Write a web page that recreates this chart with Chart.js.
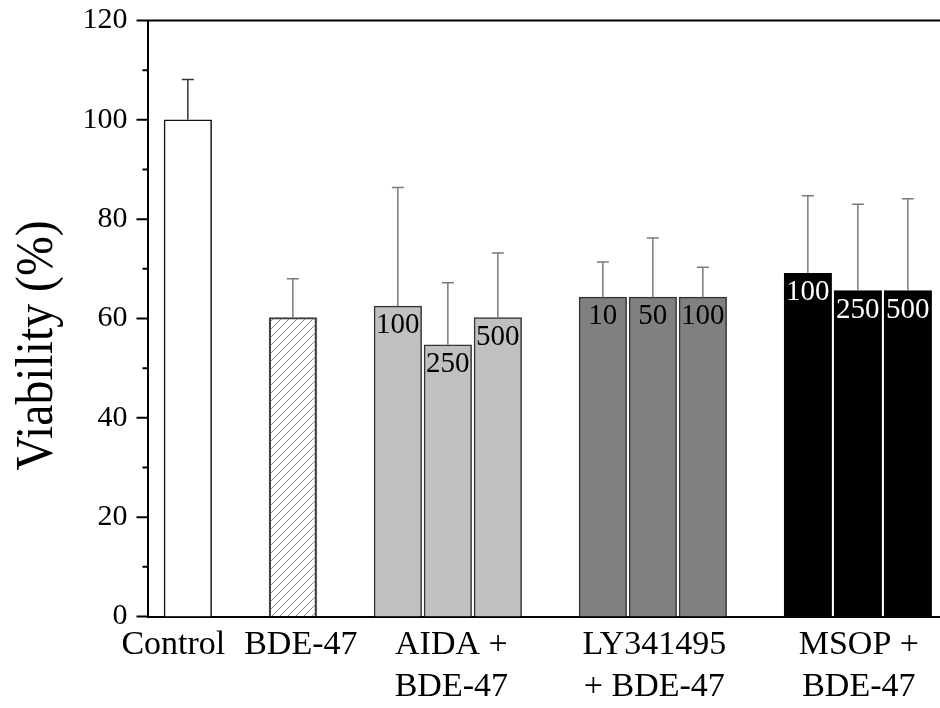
<!DOCTYPE html>
<html>
<head>
<meta charset="utf-8">
<script src="https://cdn.jsdelivr.net/npm/chart.js@4"></script>
<style>
  html, body { margin: 0; padding: 0; background: #fff; }
  #wrap { width: 940px; height: 708px; position: relative; }
</style>
</head>
<body>
<div id="wrap"><canvas id="viabilityChart"></canvas></div>
<script>
// ---- data ----
const groupLabels = [["Control"], ["BDE-47"], ["AIDA +", "BDE-47"], ["LY341495", "+ BDE-47"], ["MSOP +", "BDE-47"]];
const barGroup = [0, 1, 2, 2, 2, 3, 3, 3, 4, 4, 4];
const doseLabels = ["", "", "100", "250", "500", "10", "50", "100", "100", "250", "500"];
const viability = [100, 60.2, 62.5, 54.7, 60.2, 64.3, 64.3, 64.3, 69.1, 65.6, 65.6];
const sdUpper = [8.1, 7.8, 23.9, 12.5, 13.0, 7.1, 11.9, 6.0, 15.6, 17.4, 18.5];
const yTicks = [0, 20, 40, 60, 80, 100, 120];

// ---- layout (in bar-step units along a linear x axis) ----
const groupStep = 2.1;               // distance between last bar of a group and first bar of the next
const labelNudge = [-0.29, 0.16, 0.07, 0.03, 0.02];

const barPos = [];
barGroup.forEach(function (g, i) {
  if (i === 0) barPos.push(0);
  else barPos.push(barPos[i - 1] + (g === barGroup[i - 1] ? 1 : groupStep));
});
const groupCenter = groupLabels.map(function (_, g) {
  const xs = barPos.filter(function (_, i) { return barGroup[i] === g; });
  return (xs[0] + xs[xs.length - 1]) / 2;
});

// hatch pattern for the BDE-47 bar
function makeHatch() {
  const c = document.createElement("canvas");
  c.width = 8; c.height = 8;
  const g = c.getContext("2d");
  g.strokeStyle = "#8a8a8a";
  g.lineWidth = 1;
  g.beginPath();
  g.moveTo(0, 8); g.lineTo(8, 0);
  g.moveTo(-1, 1); g.lineTo(1, -1);
  g.moveTo(7, 9); g.lineTo(9, 7);
  g.stroke();
  return g.createPattern(c, "repeat");
}

const groupFill = ["#ffffff", makeHatch(), "#c0c0c0", "#808080", "#000000"];
const groupBorder = ["#111111", "#3a3a3a", "#333333", "#333333", "#000000"];
const groupErr = ["#333333", "#7a7a7a", "#7a7a7a", "#7a7a7a", "#7a7a7a"];

const SERIF = "'Liberation Serif', 'Times New Roman', serif";
Chart.defaults.font.family = SERIF;
Chart.defaults.color = "#000";

// error bars (upper only), dose labels, ticks, frame and y title
const extras = {
  id: "extras",
  afterDatasetsDraw(chart) {
    const ctx = chart.ctx;
    const ys = chart.scales.y;
    const meta = chart.getDatasetMeta(0);
    ctx.save();
    meta.data.forEach(function (el, i) {
      const g = barGroup[i];
      const yTop = ys.getPixelForValue(viability[i] + sdUpper[i]);
      ctx.strokeStyle = groupErr[g];
      ctx.lineWidth = 1.5;
      ctx.beginPath();
      ctx.moveTo(el.x, el.y);
      ctx.lineTo(el.x, yTop);
      ctx.moveTo(el.x - 6, yTop);
      ctx.lineTo(el.x + 6, yTop);
      ctx.stroke();

      if (doseLabels[i]) {
        ctx.font = "29px " + SERIF;
        ctx.textAlign = "center";
        ctx.textBaseline = "alphabetic";
        ctx.fillStyle = g === 4 ? "#ffffff" : "#000000";
        ctx.fillText(doseLabels[i], el.x, el.y + 27);
      }
    });
    ctx.restore();
  },
  afterDraw(chart) {
    const ctx = chart.ctx;
    const a = chart.chartArea;
    const ys = chart.scales.y;
    ctx.save();
    ctx.strokeStyle = "#000";
    ctx.lineWidth = 2;
    ctx.beginPath();
    // top frame line
    ctx.moveTo(a.left - 1, a.top);
    ctx.lineTo(a.right, a.top);
    // major + minor y ticks, pointing outwards
    for (let v = 0; v <= 120; v += 10) {
      const y = ys.getPixelForValue(v);
      const len = v % 20 === 0 ? 11 : 5;
      ctx.moveTo(a.left - len, y);
      ctx.lineTo(a.left, y);
    }
    ctx.stroke();

    // y axis title, slightly condensed like the original
    ctx.translate(52, 345.5);
    ctx.rotate(-Math.PI / 2);
    ctx.scale(0.9, 1);
    ctx.font = "53px " + SERIF;
    ctx.fillStyle = "#000";
    ctx.textAlign = "center";
    ctx.textBaseline = "alphabetic";
    ctx.fillText("Viability (%)", 0, 0);
    ctx.restore();
  },
};

const ctx = document.getElementById("viabilityChart").getContext("2d");
const viabilityChart = new Chart(ctx, {
  type: "bar",
  data: {
    datasets: [
      {
        data: viability.map(function (v, i) { return { x: barPos[i], y: v }; }),
        backgroundColor: barGroup.map(function (g) { return groupFill[g]; }),
        borderColor: barGroup.map(function (g) { return groupBorder[g]; }),
        borderWidth: 1.5,
        borderSkipped: "bottom",
        barThickness: 47.5,
      },
    ],
  },
  options: {
    responsive: true,
    maintainAspectRatio: false,
    animation: false,
    layout: { padding: { top: 20.5, right: 0, bottom: 0, left: 0 } },
    plugins: {
      legend: { display: false },
      tooltip: { enabled: false },
    },
    scales: {
      x: {
        type: "linear",
        min: -0.807,
        max: 15.043,
        offset: false,
        grid: { display: false, drawTicks: false, offset: false },
        border: { display: true, color: "#000", width: 2 },
        afterBuildTicks: function (axis) {
          axis.ticks = groupCenter.map(function (c, g) { return { value: c + labelNudge[g] }; });
        },
        afterFit: function (axis) {
          axis.height = 91.5;
          axis.paddingLeft = 0;
          axis.paddingRight = 0;
        },
        ticks: {
          autoSkip: false,
          maxRotation: 0,
          minRotation: 0,
          padding: 8,
          font: { size: 34, lineHeight: 1.23 },
          color: "#000",
          callback: function (value, index) { return groupLabels[index]; },
        },
      },
      y: {
        min: 0,
        max: 120,
        afterBuildTicks: function (axis) {
          axis.ticks = yTicks.map(function (v) { return { value: v }; });
        },
        afterFit: function (axis) {
          axis.width = 147.5;
          axis.paddingTop = 0;
          axis.paddingBottom = 0;
        },
        grid: { display: false, drawTicks: false },
        border: { display: true, color: "#000", width: 2 },
        ticks: {
          padding: 20,
          font: { size: 30 },
          color: "#000",
        },
      },
    },
  },
  plugins: [extras],
});
</script>
</body>
</html>
